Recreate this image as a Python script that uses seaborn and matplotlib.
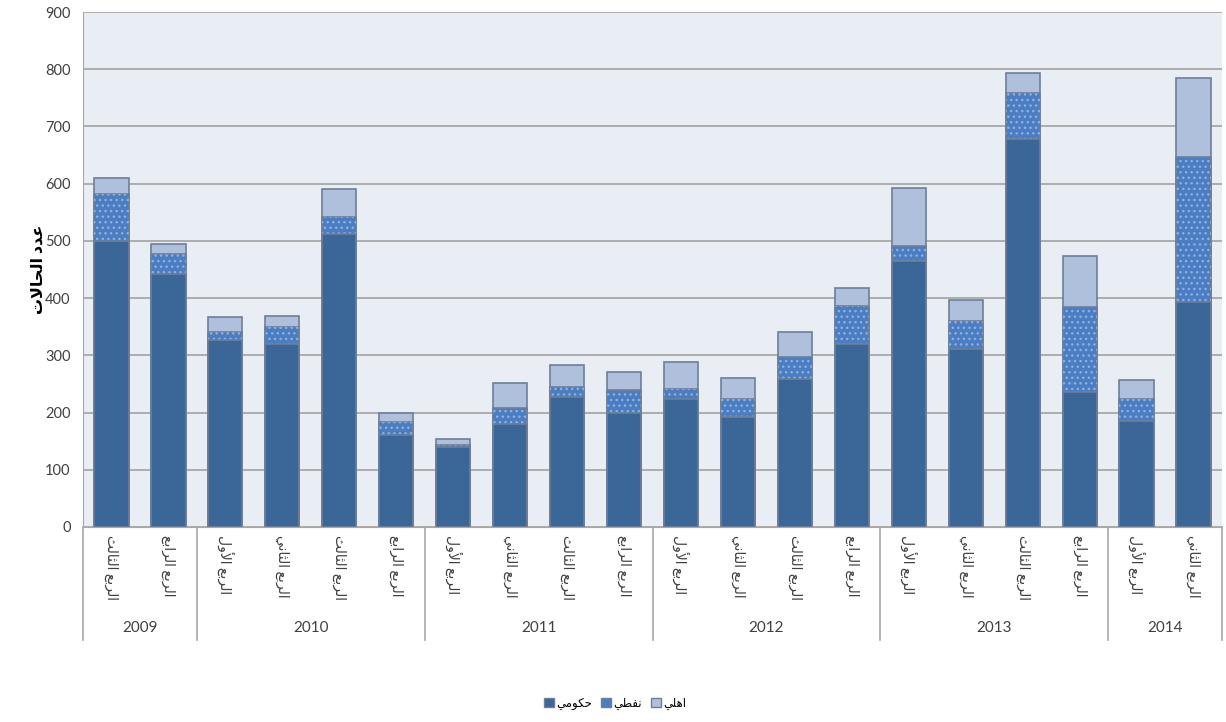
import numpy as np
import pandas as pd
import matplotlib
matplotlib.use("Agg")
import matplotlib.pyplot as plt
from matplotlib.patches import Patch
import seaborn as sns

# بيانات الرسم
bar_years = ['2009', '2009',
             '2010', '2010', '2010', '2010',
             '2011', '2011', '2011', '2011',
             '2012', '2012', '2012', '2012',
             '2013', '2013', '2013', '2013',
             '2014', '2014']
bar_quarters = ['الربع الثالث', 'الربع الرابع',
                'الربع الأول', 'الربع الثاني', 'الربع الثالث', 'الربع الرابع',
                'الربع الأول', 'الربع الثاني', 'الربع الثالث', 'الربع الرابع',
                'الربع الأول', 'الربع الثاني', 'الربع الثالث', 'الربع الرابع',
                'الربع الأول', 'الربع الثاني', 'الربع الثالث', 'الربع الرابع',
                'الربع الأول', 'الربع الثاني']
gov = [500, 443, 326, 320, 512, 160, 139, 180, 228, 199,
       223, 192, 258, 320, 465, 311, 678, 236, 186, 393]
oil = [82, 34, 15, 30, 30, 23, 4, 28, 17, 41,
       19, 32, 39, 66, 26, 49, 81, 148, 38, 254]
private = [28, 18, 26, 19, 49, 16, 10, 44, 38, 31,
           46, 36, 43, 32, 101, 36, 35, 90, 33, 137]
series_names = ['حكومي', 'نفطي', 'اهلي']
y_label = 'عدد الحالات'

# تشكيل الحروف العربية (matplotlib لا يقوم بالوصل بين الحروف)
FORMS = {
    '\u0627': ('\uFE8D', '\uFE8E', None, None),
    '\u0623': ('\uFE83', '\uFE84', None, None),
    '\u0628': ('\uFE8F', '\uFE90', '\uFE91', '\uFE92'),
    '\u062A': ('\uFE95', '\uFE96', '\uFE97', '\uFE98'),
    '\u062B': ('\uFE99', '\uFE9A', '\uFE9B', '\uFE9C'),
    '\u062D': ('\uFEA1', '\uFEA2', '\uFEA3', '\uFEA4'),
    '\u062F': ('\uFEA9', '\uFEAA', None, None),
    '\u0631': ('\uFEAD', '\uFEAE', None, None),
    '\u0637': ('\uFEC1', '\uFEC2', '\uFEC3', '\uFEC4'),
    '\u0639': ('\uFEC9', '\uFECA', '\uFECB', '\uFECC'),
    '\u0641': ('\uFED1', '\uFED2', '\uFED3', '\uFED4'),
    '\u0643': ('\uFED9', '\uFEDA', '\uFEDB', '\uFEDC'),
    '\u0644': ('\uFEDD', '\uFEDE', '\uFEDF', '\uFEE0'),
    '\u0645': ('\uFEE1', '\uFEE2', '\uFEE3', '\uFEE4'),
    '\u0646': ('\uFEE5', '\uFEE6', '\uFEE7', '\uFEE8'),
    '\u0647': ('\uFEE9', '\uFEEA', '\uFEEB', '\uFEEC'),
    '\u0648': ('\uFEED', '\uFEEE', None, None),
    '\u064A': ('\uFEF1', '\uFEF2', '\uFEF3', '\uFEF4'),
    'LA': ('\uFEFB', '\uFEFC', None, None),
    'LAA': ('\uFEF7', '\uFEF8', None, None),
}


def shape(s):
    units = []
    i = 0
    while i < len(s):
        c = s[i]
        if c == '\u0644' and i + 1 < len(s) and s[i + 1] in ('\u0627', '\u0623'):
            units.append('LA' if s[i + 1] == '\u0627' else 'LAA')
            i += 2
        else:
            units.append(c)
            i += 1
    out = []
    for k, u in enumerate(units):
        f = FORMS.get(u)
        if f is None:
            out.append(u)
            continue
        prev = units[k - 1] if k > 0 else None
        nxt = units[k + 1] if k + 1 < len(units) else None
        join_prev = prev in FORMS and FORMS[prev][2] is not None
        join_next = f[2] is not None and nxt in FORMS
        if join_prev and join_next:
            out.append(f[3])
        elif join_prev:
            out.append(f[1])
        elif join_next:
            out.append(f[2])
        else:
            out.append(f[0])
    return ''.join(reversed(out))


df = pd.DataFrame({'year': bar_years, 'quarter': bar_quarters,
                   'gov': gov, 'oil': oil, 'private': private})
df['key'] = df['year'] + ' ' + df['quarter']
df['gov_oil'] = df['gov'] + df['oil']
df['total'] = df['gov_oil'] + df['private']

c_dark = '#3B6698'
c_mid = '#4A7DC2'
c_dots = '#8FB0E0'
c_light = '#AFC0DC'
c_edge = '#6F7F98'
c_text = '#404040'

plt.rcParams['font.family'] = ['Lato', 'DejaVu Sans']
plt.rcParams['hatch.linewidth'] = 1.0

fig, ax = plt.subplots(figsize=(12.26, 7.22), dpi=100)
fig.patch.set_facecolor('white')
ax.set_facecolor('#E9EDF4')
fig.subplots_adjust(left=83 / 1226, right=1222 / 1226, top=1 - 12 / 722, bottom=1 - 527 / 722)

w = 0.6
sns.barplot(data=df, x='key', y='total', color=c_light, saturation=1, width=w,
            edgecolor=c_edge, linewidth=1.2, errorbar=None, ax=ax)
sns.barplot(data=df, x='key', y='gov_oil', color=c_mid, saturation=1, width=w,
            edgecolor=c_edge, linewidth=1.2, errorbar=None, ax=ax)
n0 = len(ax.patches)
sns.barplot(data=df, x='key', y='gov_oil', color=c_mid, saturation=1, width=w,
            linewidth=0, errorbar=None, ax=ax)
for p in ax.patches[n0:]:
    p.set_facecolor('none')
    p.set_edgecolor(c_dots)
    p.set_linewidth(0)
    p.set_hatch('...')
sns.barplot(data=df, x='key', y='gov', color=c_dark, saturation=1, width=w,
            edgecolor=c_edge, linewidth=1.2, errorbar=None, ax=ax)

n = len(df)
ax.set_xlim(-0.5, n - 0.5)
ax.set_ylim(0, 900)
ax.set_yticks(np.arange(0, 901, 100))
ax.yaxis.grid(True, color='#A8A8A8', linewidth=1.3)
ax.set_axisbelow(True)
for s in ['top', 'right']:
    ax.spines[s].set_visible(False)
ax.spines['left'].set_color('#A8A8A8')
ax.spines['bottom'].set_color('#A8A8A8')
ax.tick_params(axis='y', length=0, labelsize=10.5, labelcolor=c_text, pad=9)
ax.tick_params(axis='x', length=0, labelsize=10, labelcolor=c_text, pad=6)

ax.set_xticks(np.arange(n))
ax.set_xticklabels([shape(q) for q in bar_quarters], rotation=270,
                   ha='center', va='top')
ax.set_xlabel('')
ax.set_ylabel(shape(y_label), fontsize=11.5, fontweight='bold', color='black')
ax.yaxis.set_label_coords((46 - 83) / 1139, 0.5)

# تسميات السنوات والخطوط الفاصلة
trans = ax.get_xaxis_transform()
groups = df.groupby('year', sort=False).apply(lambda g: (g.index.min(), g.index.max()))
bounds = [-0.5]
for year, (lo, hi) in groups.items():
    ax.text((lo + hi) / 2, -0.196, year, transform=trans, ha='center', va='center',
            fontsize=11, color=c_text)
    bounds.append(hi + 0.5)
for b in bounds:
    ax.plot([b, b], [0, -0.219], transform=trans, color='#A8A8A8', linewidth=1.2,
            clip_on=False)

handles = [Patch(facecolor=c_dark, edgecolor=c_edge),
           Patch(facecolor=c_mid, edgecolor=c_edge),
           Patch(facecolor=c_light, edgecolor=c_edge)]
fig.legend(handles, [shape(s) for s in series_names], loc='center',
           bbox_to_anchor=(615 / 1226, 1 - 704 / 722), ncol=3, frameon=False,
           fontsize=8.5, handlelength=0.8, handleheight=0.8, columnspacing=0.8,
           handletextpad=0.2)

fig.savefig('out.png', dpi=100, facecolor='white')
